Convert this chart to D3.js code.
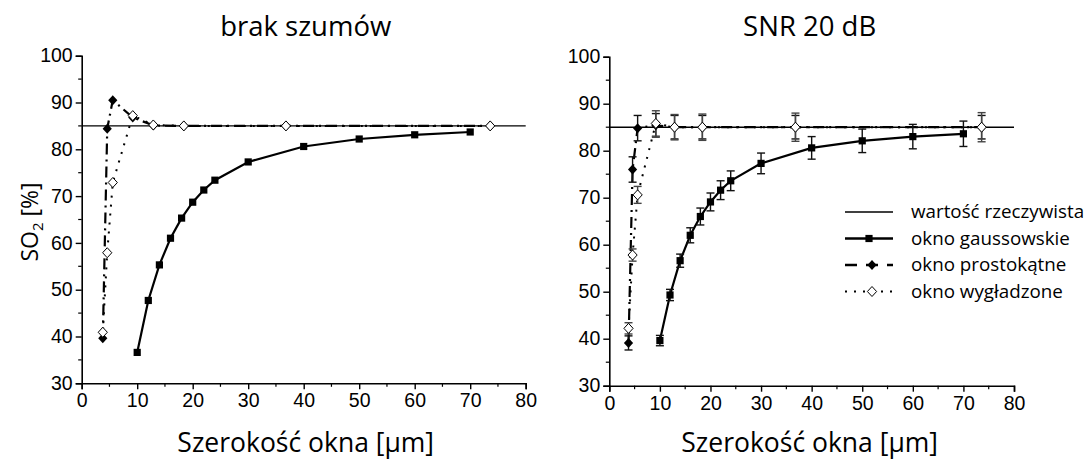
<!DOCTYPE html>
<html><head><meta charset="utf-8">
<script src="https://cdn.jsdelivr.net/npm/d3@7"></script>
<style>
html,body{margin:0;padding:0;background:#fff;}
svg{display:block;}
</style></head>
<body>
<svg id="chart" width="1092" height="459"></svg>
<script>
// ---- data ----
const panelTitles = ["brak szumów", "SNR 20 dB"];
const xTicks = [0, 10, 20, 30, 40, 50, 60, 70, 80];
const yTicks = [30, 40, 50, 60, 70, 80, 90, 100];
const trueValue = 85;

const gaussX = [10, 12, 14, 16, 18, 20, 22, 24, 30, 40, 50, 60, 70];
const gaussClean = [36.6, 47.7, 55.3, 61.0, 65.3, 68.7, 71.3, 73.4, 77.3, 80.6, 82.2, 83.1, 83.7];
const gaussNoisy = [39.6, 49.3, 56.6, 62.0, 66.0, 69.1, 71.6, 73.6, 77.3, 80.6, 82.1, 83.0, 83.6];
const gaussErr = [1.1, 1.2, 1.4, 1.6, 1.8, 1.9, 2.0, 2.1, 2.2, 2.4, 2.5, 2.6, 2.7];

const rectX = [3.8, 4.6, 5.6, 9.2, 12.9, 18.4, 36.8, 73.6];
const rectClean = [39.6, 84.4, 90.5, 86.8, 85.1, 85.0, 85.0, 85.0];
const rectNoisy = [39.1, 76.0, 84.8, 85.4, 85.0, 85.0, 85.0, 85.0];
const rectErr = [1.5, 2.7, 2.7, 2.5, 2.5, 2.5, 2.5, 2.5];

const smoothX = [3.8, 4.6, 5.6, 9.2, 12.9, 18.4, 36.8, 73.6];
const smoothClean = [40.9, 57.9, 72.9, 87.2, 85.2, 85.0, 85.0, 85.0];
const smoothNoisy = [42.2, 57.8, 70.6, 85.8, 85.0, 85.0, 85.0, 85.0];
const smoothErr = [1.2, 1.3, 1.8, 2.7, 2.7, 2.8, 3.0, 3.1];

const legendLabels = ["wartość rzeczywista", "okno gaussowskie", "okno prostokątne", "okno wygładzone"];

// ---- drawing ----
const svg = d3.select("#chart");
const TXT = "'Open Sans', 'Noto Sans', sans-serif";
const NUM = "'Liberation Sans', Arial, sans-serif";

const diamondPath = "M0,-5L4.6,0L0,5L-4.6,0Z";
const squarePath = "M-3.6,-3.6H3.6V3.6H-3.6Z";

function zip(xs, ys, es) { return xs.map((x, i) => ({x, y: ys[i], e: es ? es[i] : null})); }

function panel(opt) {
  const g = svg.append("g");
  const x = d3.scaleLinear().domain([0, 80]).range([opt.x0, opt.x1]);
  const y = d3.scaleLinear().domain([30, 100]).range([opt.y0, opt.y1]);

  // axes
  const xAxis = d3.axisBottom(x).tickValues(xTicks).tickSize(6).tickPadding(4).tickFormat(d3.format("d"));
  const yAxis = d3.axisLeft(y).tickValues(yTicks).tickSize(6).tickPadding(3).tickFormat(d3.format("d"));
  const gx = g.append("g").attr("transform", `translate(0,${opt.y0})`).call(xAxis);
  const gy = g.append("g").attr("transform", `translate(${opt.x0},0)`).call(yAxis);
  [gx, gy].forEach(a => {
    a.select(".domain").attr("stroke", "#000").attr("stroke-width", 1.6);
    a.selectAll(".tick line").attr("stroke", "#000").attr("stroke-width", 1.4);
    a.selectAll(".tick text").attr("fill", "#000").style("font-family", NUM).style("font-size", "19.5px");
  });
  // minor ticks
  const xMinor = d3.range(5, 80, 10);
  const yMinor = d3.range(35, 100, 10);
  g.append("g").selectAll("line").data(xMinor).join("line")
    .attr("x1", d => x(d)).attr("x2", d => x(d)).attr("y1", opt.y0).attr("y2", opt.y0 + 3.5)
    .attr("stroke", "#000").attr("stroke-width", 1.2);
  g.append("g").selectAll("line").data(yMinor).join("line")
    .attr("y1", d => y(d)).attr("y2", d => y(d)).attr("x1", opt.x0).attr("x2", opt.x0 - 3.5)
    .attr("stroke", "#000").attr("stroke-width", 1.2);

  // true value line
  g.append("line").attr("x1", x(0)).attr("x2", x(80)).attr("y1", y(trueValue)).attr("y2", y(trueValue))
    .attr("stroke", "#000").attr("stroke-width", 1.4);

  const line = d3.line().x(d => x(d.x)).y(d => y(d.y));
  const gauss = zip(gaussX, opt.gauss, opt.gaussErr);
  const rect = zip(rectX, opt.rect, opt.rectErr);
  const smooth = zip(smoothX, opt.smooth, opt.smoothErr);

  g.append("path").datum(smooth).attr("d", line).attr("fill", "none").attr("stroke", "#000")
    .attr("stroke-width", 2).attr("stroke-dasharray", "2,7");
  g.append("path").datum(rect).attr("d", line).attr("fill", "none").attr("stroke", "#000")
    .attr("stroke-width", 2.2).attr("stroke-dasharray", "11,5,2,5");
  g.append("path").datum(gauss).attr("d", line).attr("fill", "none").attr("stroke", "#000")
    .attr("stroke-width", 2.2);

  function errBars(data, color) {
    const eg = g.append("g").attr("stroke", color).attr("stroke-width", 1.4).attr("fill", "none");
    data.filter(d => d.e != null).forEach(d => {
      const cx = x(d.x), ya = y(d.y + d.e), yb = y(d.y - d.e);
      eg.append("line").attr("x1", cx).attr("x2", cx).attr("y1", ya).attr("y2", yb);
      eg.append("line").attr("x1", cx - 4).attr("x2", cx + 4).attr("y1", ya).attr("y2", ya);
      eg.append("line").attr("x1", cx - 4).attr("x2", cx + 4).attr("y1", yb).attr("y2", yb);
    });
  }
  if (opt.gaussErr) {
    errBars(gauss, "#111");
    errBars(rect, "#111");
    errBars(smooth, "#444");
  }

  g.append("g").selectAll("path").data(gauss).join("path")
    .attr("d", squarePath).attr("transform", d => `translate(${x(d.x)},${y(d.y)})`).attr("fill", "#000");
  g.append("g").selectAll("path").data(rect).join("path")
    .attr("d", diamondPath).attr("transform", d => `translate(${x(d.x)},${y(d.y)})`).attr("fill", "#000");
  g.append("g").selectAll("path").data(smooth).join("path")
    .attr("d", diamondPath).attr("transform", d => `translate(${x(d.x)},${y(d.y)})`)
    .attr("fill", "#fff").attr("stroke", "#000").attr("stroke-width", 1);

  // titles
  const cx = (opt.x0 + opt.x1) / 2 + opt.titleShift;
  g.append("text").attr("x", cx).attr("y", 36).attr("text-anchor", "middle")
    .style("font-family", TXT).style("font-size", "27.5px").attr("fill", "#000").text(opt.title);
  g.append("text").attr("x", cx).attr("y", 452).attr("text-anchor", "middle")
    .style("font-family", TXT).style("font-size", "26.5px").attr("fill", "#000").text("Szerokość okna [µm]");
  return {x, y};
}

panel({x0: 81.7, x1: 525.7, y0: 383.3, y1: 55.7, title: panelTitles[0], titleShift: 2,
  gauss: gaussClean, rect: rectClean, smooth: smoothClean});
panel({x0: 609.3, x1: 1014, y0: 385.7, y1: 56.7, title: panelTitles[1], titleShift: -2,
  gauss: gaussNoisy, gaussErr: gaussErr, rect: rectNoisy, rectErr: rectErr,
  smooth: smoothNoisy, smoothErr: smoothErr});

// y label
const yl = svg.append("text").attr("transform", "translate(38,222) rotate(-90)")
  .attr("text-anchor", "middle").style("font-family", TXT).style("font-size", "23px").attr("fill", "#000");
yl.append("tspan").text("SO");
yl.append("tspan").attr("dy", 5).style("font-size", "15px").text("2");
yl.append("tspan").attr("dy", -5).text(" [%]");

// legend
const lg = svg.append("g");
const lx0 = 845, lx1 = 893, ltx = 911;
const rows = [212, 238.5, 265, 291.5];
legendLabels.forEach((t, i) => {
  lg.append("text").attr("x", ltx).attr("y", rows[i] + 6).style("font-family", TXT)
    .style("font-size", "18.8px").attr("fill", "#000").text(t);
});
lg.append("line").attr("x1", lx0).attr("x2", lx1).attr("y1", rows[0]).attr("y2", rows[0])
  .attr("stroke", "#000").attr("stroke-width", 1.4);
lg.append("line").attr("x1", lx0).attr("x2", lx1).attr("y1", rows[1]).attr("y2", rows[1])
  .attr("stroke", "#000").attr("stroke-width", 2.4);
lg.append("path").attr("d", squarePath).attr("transform", `translate(${(lx0 + lx1) / 2},${rows[1]})`).attr("fill", "#000");
lg.append("line").attr("x1", lx0).attr("x2", lx1).attr("y1", rows[2]).attr("y2", rows[2])
  .attr("stroke", "#000").attr("stroke-width", 2.4).attr("stroke-dasharray", "12,9");
lg.append("path").attr("d", diamondPath).attr("transform", `translate(${(lx0 + lx1) / 2 + 3},${rows[2]})`).attr("fill", "#000");
lg.append("line").attr("x1", lx0).attr("x2", lx1).attr("y1", rows[3]).attr("y2", rows[3])
  .attr("stroke", "#000").attr("stroke-width", 2).attr("stroke-dasharray", "2,7");
lg.append("path").attr("d", diamondPath).attr("transform", `translate(${(lx0 + lx1) / 2 + 3},${rows[3]})`)
  .attr("fill", "#fff").attr("stroke", "#000").attr("stroke-width", 1);
</script>
</body></html>
